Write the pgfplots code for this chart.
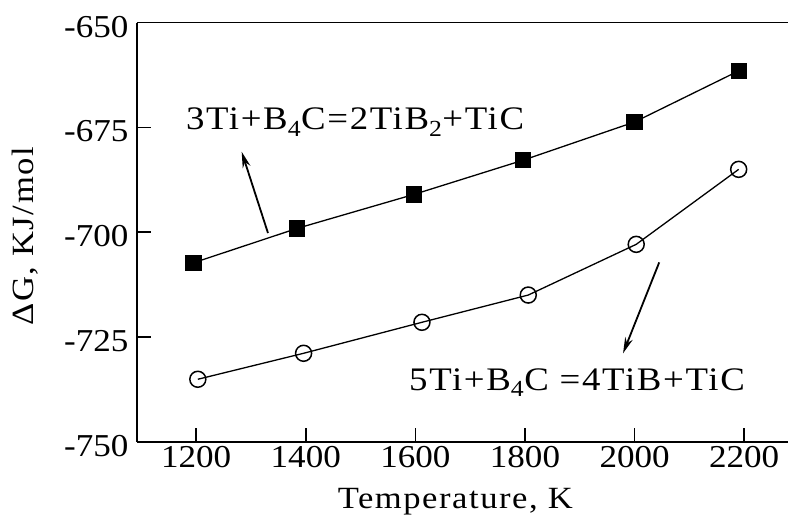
\documentclass[border=0pt]{standalone}
\usepackage{pgfplots}
\pgfplotsset{compat=1.18}
\usepackage{fontspec}
\setmainfont{Liberation Serif}[FakeStretch=1.1]
\newfontfamily\wideserif{Liberation Serif}[FakeStretch=1.12, LetterSpace=5]
\usetikzlibrary{arrows.meta}

\begin{document}
\begin{tikzpicture}[x=1bp,y=1bp]
\begin{axis}[
    name=ax,
    at={(0,0)}, anchor=south west,
    scale only axis,
    width=651bp, height=419bp,
    xmin=1092, xmax=2280,
    ymin=-750, ymax=-650,
    axis x line*=box,
    axis y line*=left,
    axis line style={line width=1.6bp},
    xtick={1200,1400,...,2200},
    ytick={-750,-725,...,-650},
    xtick pos=bottom,
    tick align=inside,
    major tick length=14bp,
    tick style={line width=1.6bp, black},
    /pgf/number format/assume math mode=true,
    /pgf/number format/1000 sep={},
    tick label style={font=\fontsize{32}{36}\selectfont},
    yticklabel style={xshift=-5bp, yshift=-4bp},
    xticklabel style={yshift=-1bp},
    label style={font=\wideserif\fontsize{31}{36}\selectfont},
    xlabel={Temperature, K},
    ylabel={ΔG, KJ/mol},
    xlabel style={at={([yshift=-60bp]axis description cs:0.489,0)}, anchor=center},
    ylabel style={at={([xshift=-112bp]axis description cs:0,0.49)}, anchor=center},
    clip=false,
]
% 3Ti+B4C=2TiB2+TiC
\addplot[black, line width=1.3bp, mark=square*, mark size=7.5bp,
    mark options={solid, fill=black}] coordinates {
    (1195,-707.3) (1384,-699.1) (1597,-691.0)
    (1797,-682.8) (2000,-673.7) (2190,-661.5)
};
% 5Ti+B4C=4TiB+TiC
\addplot[black, line width=1.3bp, mark=o, mark size=8bp,
    mark options={solid, fill=white, line width=1.5bp}] coordinates {
    (1203,-735.1) (1396,-728.9) (1612,-721.5)
    (1806,-715.0) (2003,-702.9) (2190,-685.0)
};
\node[anchor=base, font=\wideserif\fontsize{33}{36}\selectfont]
    at (axis cs:1490,-675.6) {3Ti+B\textsubscript{4}C=2TiB\textsubscript{2}+TiC};
\node[anchor=base, font=\wideserif\fontsize{33}{36}\selectfont]
    at (axis cs:1895,-737.7) {5Ti+B\textsubscript{4}C =4TiB+TiC};
\draw[line width=1.8bp, -{Stealth[length=16bp, width=8bp]}]
    (axis cs:1331,-700.2) -- (axis cs:1283,-680.8);
\draw[line width=1.8bp, -{Stealth[length=16bp, width=8bp]}]
    (axis cs:2045,-707.2) -- (axis cs:1979,-728.9);
\coordinate (bl) at (rel axis cs:0,0);
\end{axis}
\pgfresetboundingbox
\path ([shift={(-137bp,-75.3bp)}]bl) rectangle ([shift={(651bp,441.7bp)}]bl);
\end{tikzpicture}
\end{document}
